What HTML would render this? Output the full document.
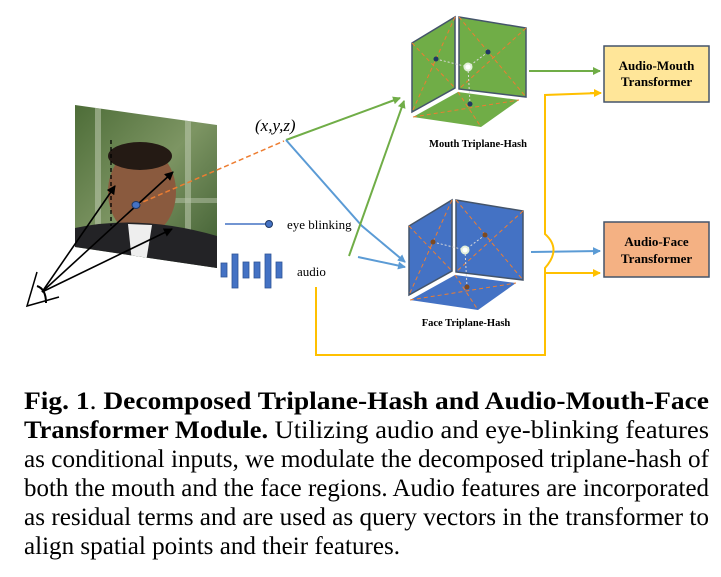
<!DOCTYPE html>
<html><head><meta charset="utf-8"><style>
html,body{margin:0;padding:0;background:#fff;}
svg{display:block;}
</style></head><body>
<svg width="721" height="577" viewBox="0 0 721 577" xmlns="http://www.w3.org/2000/svg" font-family="Liberation Serif, serif">
<defs>
<marker id="ag" markerWidth="8" markerHeight="8" refX="7" refY="4" orient="auto" markerUnits="userSpaceOnUse"><path d="M0,0 L8,4 L0,8 z" fill="#70ad47"/></marker>
<marker id="ab" markerWidth="8" markerHeight="8" refX="7" refY="4" orient="auto" markerUnits="userSpaceOnUse"><path d="M0,0 L8,4 L0,8 z" fill="#5b9bd5"/></marker>
<marker id="ay" markerWidth="8" markerHeight="8" refX="7" refY="4" orient="auto" markerUnits="userSpaceOnUse"><path d="M0,0 L8,4 L0,8 z" fill="#ffc000"/></marker>
<marker id="ak" markerWidth="9" markerHeight="9" refX="8" refY="4.5" orient="auto" markerUnits="userSpaceOnUse"><path d="M0,0 L9,4.5 L0,9 z" fill="#000"/></marker>
<linearGradient id="bg" x1="0" y1="0" x2="1" y2="1"><stop offset="0" stop-color="#4a6a35"/><stop offset="0.5" stop-color="#7d9563"/><stop offset="1" stop-color="#3b5a2e"/></linearGradient>
<clipPath id="cp"><polygon points="75,105 217,125 217,268 75,247"/></clipPath>
</defs>

<g clip-path="url(#cp)">
<rect x="70" y="100" width="150" height="170" fill="url(#bg)"/>
<rect x="95" y="100" width="6" height="170" fill="#b7c4a9" opacity="0.6"/>
<rect x="185" y="100" width="6" height="170" fill="#b7c4a9" opacity="0.6"/>
<rect x="150" y="198" width="67" height="5" fill="#b7c4a9" opacity="0.5"/>
<ellipse cx="142" cy="192" rx="34" ry="44" fill="#8a5a3e"/>
<ellipse cx="140" cy="156" rx="32" ry="14" fill="#241a14"/>
<path d="M75,228 Q140,214 217,236 L217,270 L75,270 z" fill="#232326"/>
<path d="M128,224 L152,225 L146,262 L132,262 z" fill="#eee"/>
</g>
<line x1="111" y1="140" x2="111" y2="226" stroke="#000" stroke-width="1.3" stroke-dasharray="4,3"/>
<line x1="136" y1="205" x2="284" y2="141" stroke="#ed7d31" stroke-width="1.5" stroke-dasharray="5,3"/>
<polyline points="37,272 27,306 59,297" fill="none" stroke="#000" stroke-width="1.5"/>
<path d="M37,286 Q46,289 46,303" fill="none" stroke="#000" stroke-width="2"/>
<line x1="42" y1="292" x2="115" y2="186" stroke="#000" stroke-width="1.6" marker-end="url(#ak)"/>
<line x1="42" y1="292" x2="173" y2="172" stroke="#000" stroke-width="1.6" marker-end="url(#ak)"/>
<line x1="42" y1="292" x2="172" y2="229" stroke="#000" stroke-width="1.6" marker-end="url(#ak)"/>
<ellipse cx="136" cy="205" rx="4" ry="3.5" fill="#4472c4" stroke="#1f3864"/>

<text x="255" y="131" font-size="17" font-style="italic">(x,y,z)</text>
<line x1="225" y1="224" x2="268" y2="224" stroke="#4472c4" stroke-width="1.5"/>
<circle cx="269" cy="224" r="3.5" fill="#4472c4" stroke="#1f3864"/>
<text x="287" y="229" font-size="13">eye blinking</text>
<g fill="#4472c4" stroke="#2f5597" stroke-width="0.8">
<rect x="221" y="263" width="6" height="14"/><rect x="232" y="254" width="6" height="34"/>
<rect x="243" y="262" width="6" height="16"/><rect x="254" y="262" width="6" height="16"/>
<rect x="265" y="254" width="6" height="34"/><rect x="276" y="262" width="6" height="16"/>
</g>
<text x="297" y="276" font-size="13">audio</text>

<line x1="286" y1="140" x2="400" y2="98" stroke="#70ad47" stroke-width="2" marker-end="url(#ag)"/>
<polyline points="286,140 362,226 405,262" fill="none" stroke="#5b9bd5" stroke-width="2" marker-end="url(#ab)"/>
<polyline points="349,256 404,101" fill="none" stroke="#70ad47" stroke-width="2" marker-end="url(#ag)"/>
<line x1="358" y1="257" x2="405" y2="267" stroke="#5b9bd5" stroke-width="2" marker-end="url(#ab)"/>
<line x1="529" y1="71" x2="600" y2="71" stroke="#70ad47" stroke-width="2" marker-end="url(#ag)"/>
<line x1="531" y1="252" x2="600" y2="251" stroke="#5b9bd5" stroke-width="2" marker-end="url(#ab)"/>
<path d="M600,93 L545,95 L545,234 Q562,249 545,268 L545,355 L316,355 L316,287" fill="none" stroke="#ffc000" stroke-width="2"/>
<line x1="545" y1="273" x2="600" y2="273" stroke="#ffc000" stroke-width="2" marker-end="url(#ay)"/>
<line x1="590" y1="93" x2="601" y2="93" stroke="#ffc000" stroke-width="2" marker-end="url(#ay)"/>

<g>
<polygon points="412,43 455,17 455,88 412,112" fill="#70ad47" stroke="#44546a" stroke-width="1.5"/>
<polygon points="459,17 526,28 526,97 459,89" fill="#70ad47" stroke="#44546a" stroke-width="1.5"/>
<polygon points="413,117 458,92 519,100 481,127" fill="#70ad47"/>
<g stroke="#ed7d31" stroke-width="1" stroke-dasharray="4,3" fill="none">
<line x1="412" y1="43" x2="455" y2="88"/><line x1="455" y1="17" x2="412" y2="112"/>
<line x1="459" y1="17" x2="526" y2="97"/><line x1="526" y1="28" x2="459" y2="89"/>
<line x1="413" y1="117" x2="519" y2="100"/><line x1="458" y1="92" x2="481" y2="127"/>
</g>
<g stroke="#d9d9d9" stroke-width="1" stroke-dasharray="2,2"><line x1="436" y1="59" x2="468" y2="67"/><line x1="488" y1="52" x2="468" y2="67"/><line x1="468" y1="67" x2="470" y2="104"/></g>
<circle cx="468" cy="67" r="3.5" fill="#fff" stroke="#e2efda" stroke-width="2"/>
<circle cx="436" cy="59" r="2.5" fill="#203864"/><circle cx="488" cy="52" r="2.5" fill="#203864"/><circle cx="470" cy="104" r="2.5" fill="#203864"/>
</g>
<text x="478" y="147" font-size="10.5" font-weight="bold" text-anchor="middle">Mouth Triplane-Hash</text>

<g transform="translate(-3,183)">
<polygon points="412,43 455,17 455,88 412,112" fill="#4472c4" stroke="#44546a" stroke-width="1.5"/>
<polygon points="459,17 526,28 526,97 459,89" fill="#4472c4" stroke="#44546a" stroke-width="1.5"/>
<polygon points="413,117 458,92 519,100 481,127" fill="#4472c4"/>
<g stroke="#ed7d31" stroke-width="1" stroke-dasharray="4,3" fill="none">
<line x1="412" y1="43" x2="455" y2="88"/><line x1="455" y1="17" x2="412" y2="112"/>
<line x1="459" y1="17" x2="526" y2="97"/><line x1="526" y1="28" x2="459" y2="89"/>
<line x1="413" y1="117" x2="519" y2="100"/><line x1="458" y1="92" x2="481" y2="127"/>
</g>
<g stroke="#d9d9d9" stroke-width="1" stroke-dasharray="2,2"><line x1="436" y1="59" x2="468" y2="67"/><line x1="488" y1="52" x2="468" y2="67"/><line x1="468" y1="67" x2="470" y2="104"/></g>
<circle cx="468" cy="67" r="3.5" fill="#fff" stroke="#e2efda" stroke-width="2"/>
<circle cx="436" cy="59" r="2.5" fill="#7f4a1f"/><circle cx="488" cy="52" r="2.5" fill="#7f4a1f"/><circle cx="470" cy="104" r="2.5" fill="#7f4a1f"/>
</g>
<text x="466" y="326" font-size="10.5" font-weight="bold" text-anchor="middle">Face Triplane-Hash</text>

<rect x="604" y="46" width="105" height="56" fill="#ffe699" stroke="#44546a" stroke-width="1.5"/>
<text x="656.5" y="70" font-size="13" font-weight="bold" text-anchor="middle">Audio-Mouth</text>
<text x="656.5" y="86" font-size="13" font-weight="bold" text-anchor="middle">Transformer</text>
<rect x="604" y="222" width="105" height="55" fill="#f4b183" stroke="#44546a" stroke-width="1.5"/>
<text x="656.5" y="246" font-size="13" font-weight="bold" text-anchor="middle">Audio-Face</text>
<text x="656.5" y="263" font-size="13" font-weight="bold" text-anchor="middle">Transformer</text>

<g font-size="25" fill="#000">
<text x="24" y="409" textLength="685" lengthAdjust="spacingAndGlyphs"><tspan font-weight="bold">Fig. 1</tspan>.  <tspan font-weight="bold">Decomposed Triplane-Hash and Audio-Mouth-Face</tspan></text>
<text x="24" y="438" textLength="685" lengthAdjust="spacingAndGlyphs"><tspan font-weight="bold">Transformer Module.</tspan>  Utilizing audio and eye-blinking features</text>
<text x="24" y="467" textLength="685" lengthAdjust="spacingAndGlyphs">as conditional inputs, we modulate the decomposed triplane-hash of</text>
<text x="24" y="496" textLength="685" lengthAdjust="spacingAndGlyphs">both the mouth and the face regions.  Audio features are incorporated</text>
<text x="24" y="525" textLength="685" lengthAdjust="spacingAndGlyphs">as residual terms and are used as query vectors in the transformer to</text>
<text x="24" y="554" textLength="376" lengthAdjust="spacingAndGlyphs">align spatial points and their features.</text>
</g>
</svg>
</body></html>
